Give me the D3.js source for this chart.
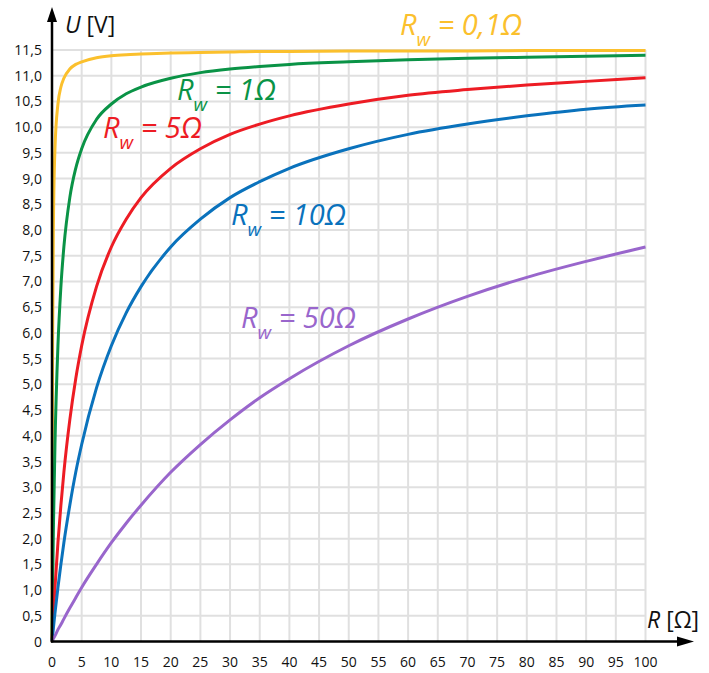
<!DOCTYPE html>
<html>
<head>
<meta charset="utf-8">
<script src="https://cdn.jsdelivr.net/npm/d3@7"></script>
<style>
  html, body { margin: 0; padding: 0; background: #fff; }
  svg { display: block; font-family: "Open Sans", sans-serif; }
</style>
</head>
<body>
<svg id="chart" width="709" height="673"></svg>
<script>
// Load resistance R [Ω] at which the terminal voltage was sampled
const resistance = [0, 0.05, 0.1, 0.25, 0.5, 1, 1.5, 2, 3, 4, 5, 7.5, 10, 12.5, 15, 20, 25, 30, 35, 40, 50, 60, 70, 80, 90, 100];

// Terminal voltage U [V] for each internal resistance Rw
const uRw01 = [0, 3.83, 5.75, 8.21, 9.58, 10.45, 10.78, 10.95, 11.13, 11.22, 11.27, 11.35, 11.39, 11.41, 11.42, 11.44, 11.45, 11.46, 11.47, 11.47, 11.48, 11.48, 11.48, 11.49, 11.49, 11.49];
const uRw1  = [0, 0.55, 1.05, 2.30, 3.83, 5.75, 6.90, 7.67, 8.63, 9.20, 9.58, 10.15, 10.45, 10.65, 10.78, 10.95, 11.06, 11.13, 11.18, 11.22, 11.27, 11.31, 11.34, 11.36, 11.38, 11.40];
const uRw5  = [0, 0.11, 0.23, 0.55, 1.05, 1.92, 2.65, 3.29, 4.31, 5.11, 5.75, 6.90, 7.67, 8.21, 8.63, 9.20, 9.58, 9.86, 10.06, 10.22, 10.45, 10.62, 10.73, 10.82, 10.89, 10.96];
const uRw10 = [0, 0.06, 0.11, 0.28, 0.55, 1.05, 1.50, 1.92, 2.65, 3.29, 3.83, 4.93, 5.75, 6.39, 6.90, 7.67, 8.21, 8.63, 8.94, 9.20, 9.58, 9.86, 10.06, 10.22, 10.35, 10.43];
const uRw50 = [0, 0.01, 0.02, 0.06, 0.11, 0.23, 0.33, 0.44, 0.65, 0.85, 1.05, 1.50, 1.92, 2.30, 2.65, 3.29, 3.83, 4.31, 4.74, 5.11, 5.75, 6.27, 6.71, 7.08, 7.39, 7.67];

const seriesNames  = ["0,1Ω", "1Ω", "5Ω", "10Ω", "50Ω"];
const seriesValues = [uRw01, uRw1, uRw5, uRw10, uRw50];
const seriesColors = ["#fbc02d", "#0a9346", "#ed1c24", "#0a72bc", "#9966cc"];

// Tick values
const xTicks = d3.range(0, 101, 5);
const yTicks = d3.range(0, 11.51, 0.5);
const yTickLabel = v => v === 0 ? "0" : v.toFixed(1).replace(".", ",");

const svg = d3.select("#chart");
const x = d3.scaleLinear().domain([0, 100]).range([52, 645.5]);
const y = d3.scaleLinear().domain([0, 11.5]).range([641.5, 50]);

// Grid
const grid = svg.append("g").attr("stroke", "#e0e0e0").attr("stroke-width", 2);
grid.selectAll("line.v").data(xTicks.slice(1)).join("line")
  .attr("x1", d => x(d)).attr("x2", d => x(d))
  .attr("y1", y(0)).attr("y2", y(11.5));
grid.selectAll("line.h").data(yTicks.slice(1)).join("line")
  .attr("x1", x(0)).attr("x2", x(100))
  .attr("y1", d => y(d)).attr("y2", d => y(d));

// Tick labels
svg.append("g").selectAll("text").data(yTicks).join("text")
  .attr("x", 42).attr("y", d => y(d)).attr("dy", "0.36em")
  .attr("text-anchor", "end").attr("font-size", 14).attr("fill", "#111")
  .text(yTickLabel);
svg.append("g").selectAll("text").data(xTicks).join("text")
  .attr("x", d => x(d)).attr("y", 667)
  .attr("text-anchor", "middle").attr("font-size", 14).attr("fill", "#111")
  .text(d => d);

// Curves
const line = d3.line()
  .x((d, i) => x(resistance[i]))
  .y(d => y(d))
  .curve(d3.curveMonotoneX);
svg.append("g").selectAll("path").data(seriesValues).join("path")
  .attr("d", d => line(d))
  .attr("fill", "none")
  .attr("stroke", (d, i) => seriesColors[i])
  .attr("stroke-width", 3);

// Axes with arrows
const axes = svg.append("g").attr("stroke", "#000").attr("stroke-width", 2.5);
axes.append("line").attr("x1", x(0)).attr("x2", x(0)).attr("y1", y(0) + 1).attr("y2", 18);
axes.append("line").attr("x1", x(0) - 1).attr("x2", 680).attr("y1", y(0)).attr("y2", y(0));
svg.append("path").attr("fill", "#000")
  .attr("d", `M${x(0)},7 L${x(0) - 5},22 L${x(0) + 5},22 Z`);
svg.append("path").attr("fill", "#000")
  .attr("d", `M694,${y(0)} L677,${y(0) - 5} L677,${y(0) + 5} Z`);

// Axis titles
const ut = svg.append("text").attr("x", 65).attr("y", 33).attr("font-size", 23).attr("fill", "#111");
ut.append("tspan").attr("font-style", "italic").text("U");
ut.append("tspan").text(" [V]");
const rt = svg.append("text").attr("x", 647).attr("y", 628).attr("font-size", 23).attr("fill", "#111");
rt.append("tspan").attr("font-style", "italic").text("R");
rt.append("tspan").text(" [Ω]");

// Curve labels
const labelPos = [[400, 35], [177, 100], [103, 138], [231, 225], [241, 328]];
seriesNames.forEach((name, i) => {
  const t = svg.append("text")
    .attr("x", labelPos[i][0]).attr("y", labelPos[i][1])
    .attr("font-size", 29).attr("font-style", "italic")
    .attr("fill", seriesColors[i]);
  t.append("tspan").text("R");
  t.append("tspan").attr("font-size", 19).attr("dy", 11).text("w");
  t.append("tspan").attr("dy", -11).text(" = " + name);
});
</script>
</body>
</html>
